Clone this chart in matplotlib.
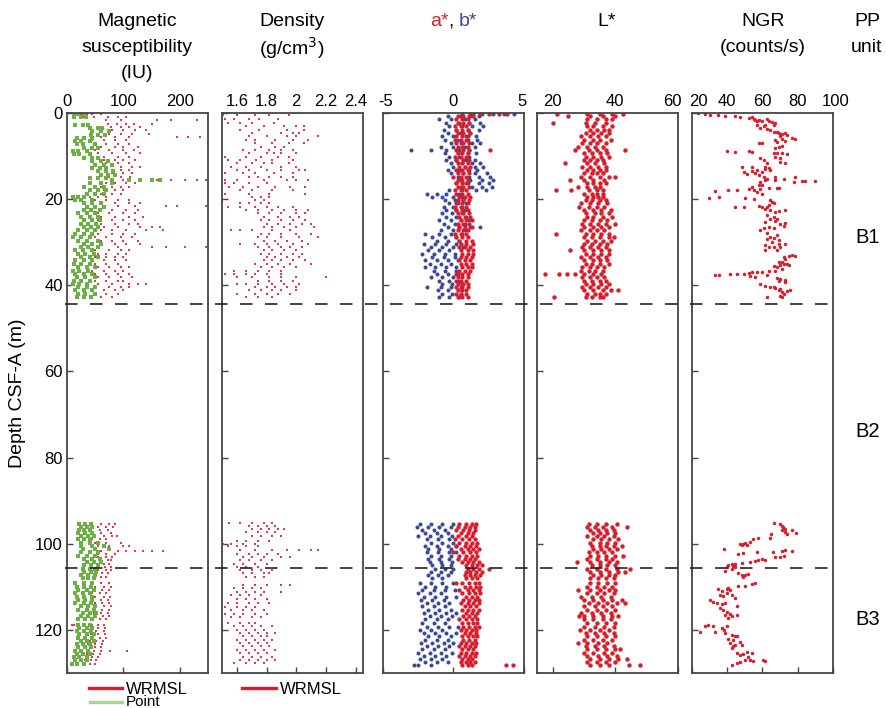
import numpy as np
import matplotlib
matplotlib.use("Agg")
import matplotlib.pyplot as plt
from matplotlib.lines import Line2D
from matplotlib.transforms import blended_transform_factory, ScaledTranslation

plt.rcParams["font.family"] = ["Liberation Sans", "DejaVu Sans"]
plt.rcParams["axes.unicode_minus"] = False

# ---------------------------------------------------------------------------
# Data: each row is (depth in m CSF-A, value, value, ...)
# ---------------------------------------------------------------------------

# Magnetic susceptibility, whole-round (WRMSL), IU
ms_wrmsl = [
    (0.3, 25, 35, 45, 60), (1.0, 30, 48, 72, 90, 105), (1.7, 70, 95, 160, 185, 230),
    (2.5, 72, 88, 105, 118, 150), (3.3, 78, 95, 110, 130), (4.0, 80, 100, 120, 140),
    (4.8, 75, 95, 115, 145), (5.6, 60, 85, 110, 195, 215, 235), (6.3, 45, 65, 85, 105),
    (7.1, 50, 70, 90, 110), (7.9, 60, 85, 100, 125), (8.6, 50, 75, 100, 118),
    (9.4, 55, 80, 105, 130), (10.2, 65, 90, 110), (11.0, 65, 85, 100, 120),
    (11.7, 70, 90, 110), (12.5, 70, 95, 115, 130), (13.3, 80, 95, 110),
    (14.0, 80, 100, 115), (14.8, 75, 95, 112), (15.5, 100, 130, 160, 185, 210, 230, 246),
    (16.3, 70, 85, 105, 120), (17.1, 60, 80, 95, 110), (17.9, 65, 85, 100),
    (18.7, 60, 80, 95), (19.5, 40, 55, 70), (20.2, 50, 70, 90, 110),
    (21.0, 60, 85, 110, 130), (21.7, 65, 90, 120, 175, 195, 246), (22.5, 60, 80, 105, 125),
    (23.3, 55, 75, 100, 120), (24.1, 60, 85, 110, 135), (24.9, 55, 80, 100, 120),
    (25.7, 60, 85, 110, 125), (26.5, 65, 90, 130, 150, 165), (27.2, 60, 80, 105, 140, 170),
    (28.0, 55, 80, 100, 120), (28.8, 50, 70, 95, 115), (29.6, 60, 80, 100, 125),
    (30.4, 60, 85, 105, 130), (31.1, 55, 90, 150, 175, 210, 246), (31.9, 50, 75, 95, 110),
    (32.7, 55, 70, 90, 105), (33.5, 50, 70, 85, 100), (34.2, 45, 65, 85, 105),
    (35.0, 50, 70, 90), (35.8, 55, 75, 95, 110), (36.6, 45, 65, 85, 100),
    (37.4, 50, 70, 90, 110), (38.1, 55, 75, 95, 115), (38.9, 50, 70, 90, 100),
    (39.7, 55, 80, 110, 125, 140), (40.5, 50, 75, 95, 110), (41.2, 45, 65, 85, 100),
    (42.0, 50, 70, 90), (42.8, 45, 60, 80),
    (95.3, 45, 60, 75, 85), (96.0, 45, 55, 70, 82), (96.8, 42, 58, 72),
    (97.5, 45, 60, 78), (98.3, 50, 65, 80, 88), (99.0, 45, 58, 70),
    (99.8, 50, 70, 95), (100.5, 55, 75, 100, 110), (101.6, 60, 90, 105, 120, 135, 150, 170),
    (102.3, 55, 70, 85), (103.0, 55, 70, 80), (103.8, 58, 72, 78),
    (104.6, 55, 65, 75), (105.3, 55, 68, 78), (106.1, 55, 70, 78),
    (106.9, 50, 62, 72), (107.7, 50, 60, 70), (109.2, 45, 60, 75),
    (110.0, 50, 65, 78), (110.8, 48, 62, 75), (111.5, 45, 58, 70),
    (112.3, 50, 65, 77), (113.0, 45, 60, 72), (113.8, 50, 62, 75),
    (114.5, 52, 65, 78), (115.3, 50, 62, 74), (116.0, 48, 60, 72),
    (116.8, 50, 63, 75), (117.5, 45, 58, 70), (118.8, 8, 12, 45, 55, 65),
    (119.5, 42, 55, 68), (120.3, 40, 52, 65), (121.0, 42, 55, 68),
    (121.8, 45, 58, 70), (122.5, 40, 52, 64), (123.3, 38, 50, 62),
    (124.0, 40, 50, 60), (124.8, 38, 48, 60, 76, 106), (125.5, 36, 46, 58),
    (126.3, 35, 45, 55), (127.0, 32, 42, 52), (127.8, 30, 40, 50),
]

# Magnetic susceptibility, point sensor, IU
ms_point = [
    (0.3, 12, 20, 30), (1.0, 12, 25, 33), (2.7, 15, 28, 38), (3.5, 40, 55, 62),
    (4.2, 45, 60, 75), (5.0, 42, 55, 68), (5.8, 18, 30, 45), (6.5, 15, 25, 40),
    (7.3, 18, 28, 50), (8.1, 30, 45, 55), (8.8, 10, 20, 35), (9.6, 12, 22, 40),
    (10.4, 30, 45, 55), (11.2, 45, 60, 72), (12.0, 50, 65, 80), (12.8, 45, 58, 70),
    (13.5, 55, 70, 82), (14.3, 60, 72, 85), (15.0, 40, 55, 70),
    (15.6, 80, 110, 130, 150, 165), (16.3, 40, 60, 80), (17.1, 30, 50, 65),
    (17.9, 40, 55, 70), (18.7, 35, 50, 65), (19.5, 10, 20, 30), (20.2, 15, 25, 45),
    (21.0, 30, 45, 60), (21.8, 35, 50, 65), (22.6, 30, 42, 58), (23.3, 20, 35, 50),
    (24.1, 25, 40, 55), (24.9, 30, 45, 58), (25.7, 25, 38, 52), (26.5, 30, 42, 55),
    (27.2, 20, 35, 50), (28.0, 15, 30, 45), (28.8, 10, 25, 40), (29.6, 20, 35, 55),
    (30.4, 30, 45, 60), (31.1, 25, 38, 55), (31.9, 15, 28, 45), (32.7, 20, 32, 48),
    (33.5, 25, 40, 55), (34.2, 15, 30, 45), (35.0, 12, 25, 40), (35.8, 20, 35, 50),
    (36.6, 10, 22, 38), (37.4, 15, 30, 45), (38.1, 18, 32, 50), (38.9, 12, 25, 40),
    (39.7, 10, 22, 35), (40.5, 20, 35, 50), (41.2, 15, 30, 45), (42.0, 20, 32, 50),
    (42.8, 18, 30, 42),
    (95.3, 22, 32, 42), (96.0, 25, 35, 45), (96.8, 22, 30, 40), (97.5, 20, 32, 44),
    (98.3, 25, 38, 48), (99.0, 20, 30, 40), (99.8, 25, 40, 55), (100.5, 25, 45, 65),
    (101.3, 28, 50, 75), (102.0, 25, 40, 55), (102.8, 20, 35, 50), (103.5, 30, 45, 58),
    (104.3, 35, 48, 60), (105.0, 30, 42, 55), (105.8, 28, 40, 50), (106.5, 30, 42, 52),
    (107.3, 25, 38, 50), (108.0, 28, 38, 48), (109.2, 15, 30, 45), (110.0, 18, 30, 42),
    (110.8, 20, 35, 48), (111.5, 15, 28, 40), (112.3, 18, 30, 45), (113.0, 20, 32, 45),
    (113.8, 15, 30, 42), (114.5, 25, 38, 50), (115.3, 20, 35, 48), (116.0, 28, 40, 52),
    (116.8, 25, 38, 50), (117.5, 20, 32, 45), (118.8, 20, 30, 40), (119.5, 22, 35, 45),
    (120.3, 18, 30, 42), (121.0, 22, 35, 48), (121.8, 20, 32, 45), (122.5, 25, 35, 48),
    (123.3, 18, 28, 40), (124.0, 20, 32, 42), (124.8, 15, 25, 38), (125.5, 18, 28, 40),
    (126.3, 12, 22, 35), (127.0, 15, 25, 35), (127.8, 8, 18, 30),
]

# Bulk density (WRMSL gamma-ray attenuation), g/cm3
density = [
    (0.4, 1.51, 1.60, 1.72, 1.82, 1.95), (1.3, 1.52, 1.58, 1.68, 1.75, 1.88),
    (2.3, 1.54, 1.62, 1.70, 1.85), (3.1, 1.66, 1.78, 1.92, 2.00, 2.05),
    (3.9, 1.62, 1.75, 1.94, 2.05), (4.7, 1.70, 1.90, 1.98, 2.02),
    (5.4, 1.68, 1.80, 1.94, 2.00, 2.15), (6.2, 1.66, 1.72, 1.86, 1.98, 2.08),
    (7.0, 1.72, 1.84, 1.95, 2.05), (7.8, 1.76, 1.86, 1.92),
    (8.6, 1.64, 1.72, 1.82, 1.90, 1.98), (9.3, 1.68, 1.80, 1.85, 1.90, 2.00),
    (10.1, 1.52, 1.66, 1.76, 1.88, 1.95), (10.9, 1.54, 1.62, 1.73, 1.84, 1.98),
    (11.7, 1.60, 1.70, 1.78, 1.84, 1.95), (12.5, 1.56, 1.66, 1.76, 1.90, 2.00),
    (13.2, 1.60, 1.68, 1.80, 1.90, 2.02, 2.06), (14.0, 1.52, 1.64, 1.72, 1.85, 1.98),
    (14.8, 1.68, 1.74, 1.82, 1.90, 1.98), (15.6, 1.52, 1.60, 1.78, 1.94, 2.00, 2.08),
    (16.3, 1.52, 1.58, 1.68, 1.80), (17.1, 1.55, 1.64, 1.74, 1.86, 1.96, 2.06),
    (17.9, 1.62, 1.70, 1.84, 1.98), (18.7, 1.52, 1.68, 1.82, 2.06),
    (19.5, 1.70, 1.76, 1.82), (20.2, 1.72, 1.78),
    (21.0, 1.62, 1.68, 1.76, 1.82), (21.8, 1.54, 1.62, 1.72, 1.80, 1.88, 1.98),
    (22.6, 1.66, 1.74, 1.84, 1.92, 2.00, 2.08), (23.3, 1.74, 1.82, 1.90, 2.00, 2.06),
    (24.1, 1.78, 1.88, 1.96, 2.02), (24.9, 1.76, 1.82, 1.90, 1.98, 2.06),
    (25.7, 1.80, 1.88, 1.96, 2.04, 2.10), (26.5, 1.78, 1.84, 1.92, 2.00, 2.12),
    (27.2, 1.56, 1.62, 1.70, 1.84, 1.96), (28.0, 1.76, 1.82, 1.90, 2.00, 2.10),
    (28.8, 1.74, 1.80, 1.90, 2.02, 2.15), (29.6, 1.78, 1.86, 1.94, 2.04),
    (30.4, 1.62, 1.72, 1.80, 1.88, 1.98, 2.08), (31.1, 1.74, 1.82, 1.90, 1.96, 2.04),
    (31.9, 1.78, 1.84, 1.92, 2.00), (32.7, 1.76, 1.82, 1.90, 1.98, 2.04),
    (33.5, 1.80, 1.86, 1.94, 2.02), (34.2, 1.78, 1.84, 1.90, 1.98, 2.06),
    (35.0, 1.72, 1.80, 1.88, 1.96, 2.10), (35.8, 1.76, 1.84, 1.92, 2.00),
    (36.6, 1.58, 1.66, 1.74, 1.82, 1.90), (37.4, 1.52, 1.58, 1.66, 1.72, 1.80, 1.90),
    (38.1, 1.60, 1.70, 1.82, 1.90, 2.00, 2.20), (38.9, 1.74, 1.82, 1.90, 1.98),
    (39.7, 1.60, 1.66, 1.74, 1.84, 1.92, 2.02), (40.5, 1.72, 1.80, 1.86, 1.94, 2.00),
    (41.2, 1.68, 1.76, 1.84, 1.90, 2.00), (42.0, 1.60, 1.72, 1.80, 1.88, 1.96),
    (42.8, 1.66, 1.74, 1.84),
    (95.2, 1.55, 1.62, 1.70, 1.78, 1.84), (95.8, 1.68, 1.74, 1.80, 1.86),
    (96.5, 1.70, 1.76, 1.82, 1.88, 1.92), (97.3, 1.66, 1.74, 1.80, 1.86),
    (98.2, 1.70, 1.76, 1.84, 1.90), (99.4, 1.60, 1.66, 1.74, 1.82),
    (100.0, 1.51, 1.56, 1.64, 1.72), (100.6, 1.54, 1.60, 1.66, 1.74),
    (101.5, 1.62, 1.72, 1.84, 1.94, 2.02, 2.10, 2.15), (102.3, 1.60, 1.68, 1.74, 1.80, 1.88),
    (103.0, 1.64, 1.70, 1.78, 1.90, 1.96), (103.8, 1.62, 1.68, 1.76, 1.84),
    (104.6, 1.58, 1.64, 1.72, 1.80), (105.4, 1.60, 1.66, 1.74),
    (106.2, 1.62, 1.70, 1.76, 1.84), (106.9, 1.64, 1.70, 1.78, 1.82),
    (107.7, 1.66, 1.72, 1.78), (109.5, 1.64, 1.72, 1.80, 1.90, 1.96),
    (110.3, 1.58, 1.64, 1.70, 1.76), (111.2, 1.60, 1.66, 1.72, 1.78, 1.90),
    (112.0, 1.56, 1.62, 1.68, 1.76), (112.8, 1.60, 1.66, 1.72, 1.80),
    (113.7, 1.54, 1.60, 1.68, 1.74, 1.82), (114.6, 1.52, 1.60, 1.66, 1.72),
    (115.4, 1.56, 1.64, 1.70, 1.78), (116.2, 1.52, 1.58, 1.64, 1.72, 1.80),
    (117.0, 1.56, 1.62, 1.70, 1.76), (118.5, 1.54, 1.62, 1.68, 1.72),
    (119.2, 1.58, 1.64, 1.70, 1.76, 1.84), (120.0, 1.60, 1.66, 1.72, 1.78),
    (120.8, 1.62, 1.68, 1.74, 1.80, 1.86), (121.5, 1.64, 1.70, 1.76, 1.80),
    (122.3, 1.60, 1.66, 1.72, 1.78, 1.84), (123.1, 1.62, 1.68, 1.74, 1.80),
    (123.8, 1.64, 1.70, 1.76, 1.82), (124.6, 1.60, 1.66, 1.72, 1.78, 1.86),
    (125.4, 1.62, 1.68, 1.74, 1.80), (126.2, 1.64, 1.70, 1.76, 1.84),
    (126.9, 1.62, 1.68, 1.74, 1.80, 1.86), (127.7, 1.58, 1.66, 1.72, 1.78),
]

# Color reflectance a*
a_star = [
    (0.2, 1.4, 1.9, 2.5, 3.2, 3.8), (0.8, 0.3, 0.7, 1.1, 1.4), (1.5, 0.2, 0.6, 1.0),
    (2.3, 0.3, 0.7, 1.1), (3.1, 0.1, 0.5, 0.9), (3.9, 0.2, 0.6, 1.0), (4.7, 0.3, 0.7, 1.2),
    (5.4, 0.2, 0.6, 1.0), (6.2, 0.1, 0.5, 0.9), (7.0, 0.2, 0.7, 1.1), (7.8, 0.3, 0.6, 1.0),
    (8.6, 0.2, 0.7, 1.1, 2.6), (9.3, 0.3, 0.6, 1.0), (10.1, 0.1, 0.5, 0.9),
    (10.9, 0.2, 0.7, 1.1), (11.7, 0.3, 0.6, 1.0), (12.5, 0.4, 0.8, 1.2),
    (13.2, 0.2, 0.6, 1.0), (14.0, 0.3, 0.7, 1.1), (14.8, 0.0, 0.5, 0.9),
    (15.6, 0.3, 0.6, 1.0), (16.3, 0.2, 0.6, 0.9), (17.1, 0.3, 0.7, 1.1),
    (17.9, 0.1, 0.5, 0.9), (18.7, 0.2, 0.6, 1.0), (19.5, 0.4, 0.8, 1.2),
    (20.2, 0.3, 0.7, 1.1), (21.0, 0.2, 0.6, 1.0), (21.8, 0.1, 0.5, 0.9),
    (22.6, 0.2, 0.6, 1.0), (23.3, 0.3, 0.7, 1.1), (24.1, 0.4, 0.8, 1.2),
    (24.9, 0.5, 0.9, 1.3), (25.7, 0.3, 0.7, 1.1), (26.5, 0.4, 0.8, 1.3),
    (27.2, 0.3, 0.7, 1.0), (28.0, 0.1, 0.5, 0.9), (28.8, 0.2, 0.6, 1.0),
    (29.6, 0.4, 0.9, 1.3), (30.4, 0.5, 0.9, 1.4), (31.1, 0.4, 0.8, 1.2),
    (31.9, 0.5, 1.0, 1.4), (32.7, 0.6, 1.0, 1.4), (33.5, 0.5, 0.9, 1.3),
    (34.2, 0.4, 0.8, 1.2), (35.0, 0.5, 0.9, 1.3), (35.8, 0.6, 1.0, 1.3),
    (36.6, 0.4, 0.8, 1.2), (37.4, 0.2, 0.6, 1.0), (38.1, 0.3, 0.6, 1.0),
    (38.9, 0.2, 0.5, 0.9), (39.7, 0.3, 0.7, 1.0), (40.5, 0.2, 0.6, 1.0),
    (41.2, 0.3, 0.6, 0.9), (42.0, 0.2, 0.5, 0.9), (42.8, 0.3, 0.6, 1.0),
    (95.3, 0.4, 0.9, 1.3, 1.6), (96.0, 0.3, 0.8, 1.2, 1.5), (96.8, 0.2, 0.7, 1.1, 1.5),
    (97.5, 0.5, 1.0, 1.4), (98.3, 0.3, 0.9, 1.3), (99.0, 0.1, 0.6, 1.1, 1.5),
    (99.8, 0.4, 0.9, 1.3, 1.7), (100.5, 0.2, 0.8, 1.2, 1.6), (101.3, 0.5, 1.0, 1.4, 1.8),
    (102.0, 0.0, 0.7, 1.2, 1.6), (102.8, 0.4, 0.9, 1.3, 1.7), (103.5, 0.3, 0.8, 1.2, 1.5),
    (104.3, 0.6, 1.0, 1.4, 1.8), (105.0, 0.9, 1.3, 1.7, 2.0), (105.8, 1.0, 1.4, 1.8, 2.5),
    (106.5, 0.9, 1.2, 1.6, 2.0), (107.3, 0.8, 1.2, 1.5, 1.9), (108.0, 0.9, 1.3, 1.7),
    (109.2, 0.2, 0.6, 1.1, 1.5, 1.8), (110.0, 0.8, 1.2, 1.6, 1.9), (110.8, 0.4, 1.0, 1.4, 1.8),
    (111.5, 0.6, 1.1, 1.5, 1.9), (112.3, 0.9, 1.3, 1.7), (113.0, 0.7, 1.1, 1.5, 1.8),
    (113.8, 0.5, 1.0, 1.4, 1.8), (114.5, 0.8, 1.2, 1.6), (115.3, 0.6, 1.0, 1.4, 1.8),
    (116.0, 0.9, 1.3, 1.7), (116.8, 0.7, 1.1, 1.5), (117.5, 0.4, 0.9, 1.3, 1.7),
    (118.5, 0.6, 1.0, 1.4, 1.7), (119.3, 0.7, 1.1, 1.5, 1.8), (120.0, 0.5, 0.9, 1.3, 1.6),
    (120.8, 0.8, 1.2, 1.6), (121.5, 0.6, 1.0, 1.4, 1.7), (122.3, 0.7, 1.1, 1.5),
    (123.0, 0.5, 0.9, 1.3, 1.6), (123.8, 0.4, 0.8, 1.2, 1.5), (124.5, 0.6, 1.0, 1.4),
    (125.3, 0.5, 0.9, 1.3, 1.6), (126.0, 0.4, 0.8, 1.2, 1.5), (126.8, 0.6, 1.0, 1.3),
    (127.5, 0.5, 0.9, 1.2, 1.5), (128.2, 0.6, 1.0, 1.3, 3.7, 4.2),
]

# Color reflectance b*
b_star = [
    (0.2, 0.6, 1.2, 2.0, 2.8, 3.6, 4.3), (0.8, -0.4, 0.5, 1.2, 1.8), (1.5, -1.0, -0.2, 0.8, 1.5),
    (2.3, -0.5, 0.4, 1.1, 1.9), (3.1, -0.3, 0.6, 1.3, 2.1), (3.9, -0.7, 0.2, 1.0, 1.8),
    (4.7, -0.4, 0.5, 1.2), (5.4, -0.8, 0.0, 0.9, 1.6), (6.2, -0.6, 0.3, 1.0, 1.7),
    (7.0, -0.2, 0.5, 1.3, 1.9), (7.8, -0.9, 0.0, 0.8, 1.5), (8.6, -3.0, -1.6, -0.5, 0.4, 1.1),
    (9.3, -0.6, 0.3, 1.0, 1.6), (10.1, -0.3, 0.4, 1.1), (10.9, -0.5, 0.2, 0.9, 1.5),
    (11.7, -0.2, 0.6, 1.3, 1.9), (12.5, 0.0, 0.8, 1.5, 2.1), (13.2, -0.4, 0.4, 1.1, 1.7),
    (14.0, -0.2, 0.7, 1.5, 2.4), (14.8, 0.3, 1.1, 1.8, 2.6), (15.6, 0.4, 1.2, 2.0, 2.8),
    (16.3, 0.2, 1.0, 1.8, 2.5), (17.1, 0.5, 1.3, 2.0, 2.7), (17.9, -0.3, 0.6, 1.6, 2.3),
    (18.7, -1.9, -1.2, -0.5, 0.4), (19.5, -1.5, -0.8, 0.0, 0.6), (20.2, -0.6, 0.1, 0.7),
    (21.0, -0.3, 0.3, 0.9), (21.8, -0.7, 0.0, 0.6), (22.6, -0.5, 0.2, 0.8),
    (23.3, -0.8, -0.1, 0.6), (24.1, -0.5, 0.2, 0.9), (24.9, -1.0, -0.2, 0.5, 1.1),
    (25.7, -0.7, 0.1, 0.8), (26.5, -0.4, 0.4, 1.2, 1.9), (27.2, -0.9, 0.0, 0.8),
    (28.0, -2.0, -1.0, -0.2, 0.6), (28.8, -1.5, -0.6, 0.2), (29.6, -1.2, -0.4, 0.4),
    (30.4, -2.1, -1.3, -0.5, 0.2), (31.1, -1.6, -0.8, 0.0, 0.7), (31.9, -1.8, -1.0, -0.3),
    (32.7, -2.2, -1.4, -0.6, 0.1), (33.5, -1.5, -0.7, 0.1), (34.2, -2.0, -1.2, -0.4, 0.3),
    (35.0, -1.7, -0.9, -0.2), (35.8, -2.0, -1.3, -0.5, 0.2), (36.6, -1.4, -0.6, 0.2),
    (37.4, -1.2, -0.4, 0.3), (38.1, -1.6, -0.8, 0.0), (38.9, -1.0, -0.3, 0.4),
    (39.7, -0.8, -0.1, 0.6), (40.5, -1.9, -0.9, -0.2, 0.5), (41.2, -1.1, -0.4, 0.3),
    (42.0, -0.8, -0.1, 0.5), (42.8, -1.0, -0.3, 0.4),
    (95.3, -2.4, -1.6, -0.8, 0.0), (96.0, -2.6, -1.8, -1.0, -0.2), (96.8, -2.2, -1.4, -0.6),
    (97.5, -2.0, -1.2, -0.4), (98.3, -2.5, -1.7, -0.9, -0.1), (99.0, -1.9, -1.1, -0.3),
    (99.8, -1.6, -0.8, 0.0), (100.5, -2.0, -1.2, -0.4, 0.2), (101.3, -1.8, -1.0, -0.2),
    (102.0, -1.9, -1.1, -0.3, 0.2), (102.8, -1.6, -0.9, -0.2), (103.5, -1.8, -1.0, -0.3),
    (104.3, -1.7, -0.9, -0.1), (105.0, -1.5, -0.8, -0.2), (105.8, -1.3, -0.6, 0.0),
    (106.5, -1.6, -0.9, -0.2), (107.3, -1.8, -1.1, -0.4), (108.0, -1.5, -0.8),
    (109.2, -2.4, -1.6, -0.8, 0.0), (110.0, -2.0, -1.3, -0.5), (110.8, -2.2, -1.4, -0.6, 0.1),
    (111.5, -2.5, -1.7, -0.9), (112.3, -2.1, -1.3, -0.5, 0.2), (113.0, -2.3, -1.5, -0.7),
    (113.8, -1.9, -1.1, -0.3), (114.5, -2.2, -1.4, -0.6), (115.3, -1.8, -1.0, -0.2),
    (116.0, -2.1, -1.3, -0.5, 0.2), (116.8, -1.7, -0.9, -0.1), (117.5, -2.0, -1.2, -0.4),
    (118.5, -2.2, -1.4, -0.6), (119.3, -1.9, -1.1, -0.3, 0.3), (120.0, -2.4, -1.6, -0.8),
    (120.8, -2.1, -1.3, -0.5, 0.2), (121.5, -1.8, -1.0, -0.2), (122.3, -2.0, -1.2, -0.4),
    (123.0, -2.3, -1.5, -0.7, 0.0), (123.8, -1.9, -1.1, -0.3), (124.5, -2.2, -1.4, -0.6),
    (125.3, -2.5, -1.7, -0.9, -0.1), (126.0, -2.1, -1.3, -0.5), (126.8, -2.4, -1.6, -0.8),
    (127.5, -2.0, -1.2, -0.4), (128.2, -2.8, -2.5, -1.6),
]

# Color reflectance L*
l_star = [
    (0.2, 21.4, 31, 35, 39, 42.5), (0.8, 25, 32, 36, 40), (1.5, 31, 34, 37, 39),
    (2.3, 20, 30.5, 33.5, 37), (3.1, 31, 33, 36, 39), (3.9, 32, 34, 36.5, 38),
    (4.7, 30.5, 33, 35.5, 38), (5.4, 29, 32, 34.5, 37), (6.2, 30, 33, 35, 38.5),
    (7.0, 29.5, 32, 34, 37), (7.8, 28, 31, 33.5, 36), (8.6, 27, 31.5, 34, 37, 43),
    (9.3, 30, 32.5, 35, 37.5), (10.1, 30.5, 33, 35.5, 38), (10.9, 30, 32, 34, 36),
    (11.7, 24, 31, 33.5, 36.5), (12.5, 29.5, 32, 34.5, 37), (13.2, 31, 33, 35, 37),
    (14.0, 30, 32.5, 34, 36), (14.8, 29, 32, 35, 38, 40), (15.6, 25.5, 30, 33, 36.5),
    (16.3, 31, 33, 35, 37), (17.1, 28, 31, 33.5, 35), (17.9, 21, 26, 31.5, 34, 36),
    (18.7, 30, 32.5, 34, 36), (19.5, 31, 33, 34.5, 36), (20.2, 30.5, 32.5, 35, 37),
    (21.0, 29, 32, 34.5, 37.5), (21.8, 28.5, 31.5, 34, 36.5), (22.6, 30, 33, 35.5, 38.5),
    (23.3, 30.5, 33.5, 35.5, 38), (24.1, 31, 33, 36, 39), (24.9, 30, 32.5, 35, 37.5),
    (25.7, 29.5, 32, 34.5, 37, 40), (26.5, 30, 33, 35.5, 38), (27.2, 29, 32, 34, 36.5),
    (28.0, 21, 30.5, 33, 35.5, 38), (28.8, 30, 32.5, 35, 38, 39.5), (29.6, 31, 33.5, 36, 38.5),
    (30.4, 30, 32.5, 35, 37.5), (31.1, 29.5, 32, 34.5, 37), (31.9, 25.5, 30, 33, 35.5, 38),
    (32.7, 30.5, 33, 35.5, 38), (33.5, 29, 32, 34.5, 37), (34.2, 30, 33, 35, 37.5),
    (35.0, 30.5, 32.5, 35, 38), (35.8, 29.5, 32, 34, 36.5), (36.6, 29, 31.5, 33.5, 36),
    (37.4, 17.6, 22, 24.5, 27, 30, 33, 35.5), (38.1, 29.5, 32, 34, 36.5),
    (38.9, 30, 32.5, 35, 37), (39.7, 30.5, 33, 35.5, 38), (40.5, 29.5, 32, 34.5, 37),
    (41.2, 30, 33, 36, 38.5, 41), (42.0, 31, 33.5, 35, 37), (42.8, 20.3, 30.5, 32.5, 35, 36),
    (95.3, 31.5, 34, 37, 40.5), (96.0, 31, 33.5, 36, 39, 43.6), (96.8, 32, 34.5, 37, 39.5),
    (97.5, 33, 35, 37.5, 40), (98.3, 31, 34, 36.5, 39.5), (99.0, 33, 35.5, 38, 41),
    (99.8, 32, 35, 37.5, 40), (100.5, 32.5, 35, 37, 39.5, 42), (101.3, 33, 35.5, 38, 40.5),
    (102.0, 31.5, 34, 36.5, 39), (102.8, 32, 34.5, 37, 40, 42.5), (103.5, 31, 34, 37, 39),
    (104.3, 27.7, 32, 35, 38, 40.5), (105.0, 32.5, 35, 37.5, 40), (105.8, 31, 34, 37, 40.5, 44.7),
    (106.5, 32, 35, 38, 41, 43), (107.3, 33, 35.5, 38, 40), (108.0, 32, 34.5, 37, 39.5),
    (109.2, 32, 34.5, 37.5, 40), (110.0, 31, 34, 36.5, 39), (110.8, 28, 32, 35, 38, 40),
    (111.5, 31, 34, 36.5, 39.5), (112.3, 29, 32.5, 35.5, 38.5), (113.0, 30, 33, 36, 39, 42),
    (113.8, 31.5, 34.5, 37.5, 40.5, 43), (114.5, 30, 33.5, 36, 39), (115.3, 31, 34, 37, 40),
    (116.0, 29, 32.5, 35.5, 38.5), (116.8, 28.5, 30, 33, 36, 39, 41), (117.5, 30, 33, 36, 38.5),
    (118.5, 31, 34, 37, 40), (119.3, 30, 33.5, 36.5, 39.5), (120.0, 28.8, 32, 35, 38),
    (120.8, 30.5, 33.5, 36.5, 39.5), (121.5, 31, 34, 37, 40), (122.3, 30, 33, 36, 39),
    (123.0, 28, 31, 34.5, 37.5), (123.8, 30.5, 33.5, 36.5, 39.5), (124.5, 31, 34, 37, 40, 41.5),
    (125.3, 30, 33, 36.5, 39), (126.0, 31, 34.5, 37.5, 40.5), (126.8, 32, 35, 38, 41, 43.6),
    (127.5, 31, 34, 37, 40), (128.2, 32, 35, 38, 44.5, 47.8),
]

# Natural gamma radiation, counts/s: (depth, value)
ngr = [
    (0.0, 23.4), (0.2, 27.6), (0.4, 30.4), (0.5, 34.7), (0.6, 38.9), (0.8, 44.6), (0.9, 47.4),
    (1.2, 52.1), (0.9, 54.0), (1.3, 55.0), (1.7, 55.9), (1.9, 56.9), (1.6, 57.8), (1.8, 59.7),
    (1.4, 62.5), (1.9, 63.5), (2.2, 65.4), (2.7, 66.3), (2.3, 67.3), (3.1, 60.6), (2.9, 61.6),
    (2.7, 56.9), (3.5, 58.8), (3.7, 62.5), (4.0, 64.4), (4.5, 66.3), (4.3, 68.2), (4.7, 69.1),
    (4.9, 71.0), (4.7, 72.9), (5.1, 73.9), (5.4, 70.1), (6.1, 71.0), (6.2, 67.3), (6.8, 68.2),
    (6.6, 72.9), (5.8, 76.7), (6.1, 78.6), (7.8, 69.1), (8.2, 67.3), (7.6, 71.0), (7.0, 57.8),
    (7.0, 59.7), (9.2, 66.3), (9.3, 68.2), (9.3, 71.0), (9.5, 73.9), (10.1, 67.3), (10.5, 70.1),
    (11.5, 72.9), (11.3, 70.1), (8.9, 39.8), (9.1, 44.6), (8.8, 52.1), (9.1, 54.0), (10.5, 58.8),
    (10.9, 60.6), (11.7, 62.5), (12.5, 61.6), (12.8, 63.5), (13.2, 64.4), (13.1, 61.6),
    (13.6, 59.7), (13.2, 56.9), (13.5, 54.0), (14.0, 55.9), (12.5, 48.4), (13.6, 49.3),
    (14.2, 51.2), (12.5, 54.0), (14.4, 57.8), (14.8, 60.6), (15.6, 61.6), (15.3, 62.5),
    (16.0, 58.8), (16.7, 59.7), (14.9, 67.3), (15.6, 67.3), (15.4, 72.0), (14.9, 78.6),
    (16.0, 77.7), (15.7, 82.4), (15.7, 84.3), (15.8, 89.9), (17.3, 69.1), (17.5, 68.2),
    (17.5, 63.5), (16.7, 57.8), (17.1, 54.0), (17.9, 55.0), (18.3, 56.9), (17.7, 58.8),
    (17.7, 52.1), (17.9, 45.5), (17.9, 40.4), (18.1, 33.2), (19.5, 35.1), (19.7, 29.8),
    (19.7, 50.2), (20.0, 55.0), (18.9, 59.7), (20.1, 64.4), (20.6, 65.4), (21.0, 66.3),
    (21.4, 63.5), (21.9, 62.5), (22.2, 61.6), (21.6, 57.8), (21.8, 59.7), (23.0, 67.3),
    (22.7, 69.1), (22.6, 72.9), (21.9, 44.6), (21.9, 49.3), (22.6, 64.4), (23.7, 62.5),
    (24.1, 66.3), (24.5, 68.2), (24.7, 64.4), (25.3, 61.6), (25.1, 67.3), (25.7, 70.1),
    (26.5, 63.5), (26.6, 66.3), (27.1, 58.8), (26.8, 60.6), (25.5, 72.9), (26.3, 72.0),
    (27.9, 62.5), (28.8, 64.4), (29.0, 66.3), (29.4, 69.1), (28.4, 68.2), (29.2, 62.5),
    (30.0, 65.4), (30.7, 61.6), (31.1, 63.5), (31.0, 66.3), (31.1, 70.1), (31.7, 68.2),
    (31.9, 61.6), (30.5, 69.1), (30.5, 72.9), (33.5, 72.0), (33.9, 72.9), (33.3, 74.8),
    (33.0, 76.7), (33.2, 78.6), (34.5, 71.0), (35.0, 72.0), (34.6, 69.1), (35.4, 70.1),
    (35.8, 68.2), (35.6, 66.3), (36.6, 67.3), (36.2, 71.0), (35.0, 73.9), (35.4, 74.8),
    (36.7, 63.5), (37.7, 62.5), (36.8, 59.7), (37.0, 56.9), (37.0, 54.0), (37.2, 52.1),
    (37.4, 49.3), (37.4, 45.5), (37.4, 41.7), (37.5, 35.1), (37.6, 33.2), (38.0, 55.9),
    (37.9, 53.1), (38.3, 68.2), (38.5, 70.1), (38.8, 72.9), (38.9, 69.1), (39.3, 72.9),
    (39.8, 58.8), (40.1, 61.6), (40.3, 64.4), (40.5, 66.3), (40.6, 67.3), (40.9, 70.1),
    (41.2, 69.1), (41.6, 71.0), (42.0, 72.0), (41.4, 73.9), (41.2, 75.8), (42.4, 70.1),
    (42.8, 71.0), (42.8, 62.5),
    (95.2, 66.7), (95.4, 69.9), (95.8, 70.9), (96.2, 71.8), (96.5, 72.7), (96.9, 70.9),
    (97.3, 72.7), (97.7, 73.7), (96.8, 76.5), (97.5, 78.8), (97.7, 64.8), (98.6, 64.2),
    (98.6, 57.2), (99.0, 54.8), (99.6, 52.9), (100.0, 47.2), (100.4, 48.2), (100.0, 49.1),
    (99.8, 50.1), (100.2, 51.0), (101.2, 38.3), (102.3, 46.3), (102.2, 49.1), (101.9, 56.7),
    (101.9, 66.1), (101.7, 70.9), (101.4, 72.7), (101.7, 76.5), (103.1, 67.1), (103.1, 69.9),
    (102.9, 72.4), (103.7, 61.4), (103.5, 59.9), (103.8, 57.6), (104.0, 55.7), (104.2, 52.9),
    (104.4, 48.2), (104.6, 44.4), (104.8, 42.5), (105.0, 40.6), (105.2, 43.4), (105.5, 39.7),
    (106.3, 38.7), (105.8, 42.5), (105.5, 44.4), (106.9, 46.3), (107.3, 48.2), (107.2, 50.1),
    (107.1, 51.6), (107.7, 49.1), (109.4, 53.8), (109.2, 55.7), (109.8, 46.3), (109.8, 50.1),
    (110.6, 34.9), (110.9, 36.8), (110.4, 39.7), (110.2, 40.6), (110.8, 41.6), (111.9, 35.9),
    (112.2, 37.8), (111.5, 39.7), (111.9, 42.5), (112.5, 44.4), (113.1, 30.2), (113.5, 32.1),
    (113.7, 34.0), (114.0, 36.8), (113.8, 38.7), (114.5, 45.3), (115.0, 35.9), (115.4, 37.8),
    (115.8, 39.7), (116.2, 41.6), (116.5, 38.7), (116.8, 42.5), (117.3, 40.6), (116.5, 45.3),
    (119.0, 27.4), (118.8, 29.3), (120.4, 24.5), (119.2, 32.1), (120.4, 33.0), (119.6, 36.8),
    (120.0, 38.3), (120.8, 38.7), (119.2, 39.7), (121.2, 42.5), (121.5, 44.4), (121.4, 45.3),
    (122.2, 40.6), (122.3, 43.4), (123.1, 41.6), (123.5, 44.4), (124.2, 42.5), (123.8, 43.4),
    (122.7, 47.2), (123.5, 48.2), (125.4, 45.3), (125.8, 47.2), (125.5, 49.1), (125.2, 51.0),
    (126.2, 51.9), (125.4, 53.8), (126.9, 50.1), (127.5, 47.2), (127.7, 45.3), (128.1, 42.5),
    (126.9, 52.9), (127.2, 54.8), (126.9, 60.5), (127.3, 61.4),
]

# Lithostratigraphic (physical property) unit boundaries and labels
unit_boundaries = [44.3, 105.6]
unit_names = ["B1", "B2", "B3"]
unit_label_depths = [28.8, 74.0, 117.6]

depth_ticks = [0, 20, 40, 60, 80, 100, 120]
depth_range = (130, 0)


def flatten(rows):
    depth, vals = [], []
    for row in rows:
        for v in row[1:]:
            depth.append(row[0])
            vals.append(v)
    return np.array(vals, dtype=float), np.array(depth, dtype=float)


RED = "#d81e2c"
RED_LIGHT = "#e23a48"
BLUE = "#3c4a96"
GREEN = "#6bb043"
GREEN_LEGEND = "#a7d48e"
FRAME = "#454545"

W, H = 887, 708
fig = plt.figure(figsize=(W / 100, H / 100), dpi=100)


def fx(px):
    return px / W


def fy(py):
    return 1 - py / H


panel_left_px = [67, 222, 383, 537, 692]
panel_w_px = 141
top_px, bottom_px = 113, 673

# label_nudge: horizontal pixel offsets that keep edge labels of
# neighbouring panels apart
panel_specs = [
    dict(xlim=(0, 250), xticks=[0, 100, 200], label_nudge={}),
    dict(xlim=(1.5, 2.45), xticks=[1.6, 1.8, 2.0, 2.2, 2.4], label_nudge={}),
    dict(xlim=(-5, 5), xticks=[-5, 0, 5], label_nudge={-5: 3, 5: -2}),
    dict(xlim=(15, 60), xticks=[20, 40, 60], label_nudge={60: -6}),
    dict(xlim=(20, 100), xticks=[20, 40, 60, 80, 100], label_nudge={20: 6, 100: 3}),
]

axes = []
for i, (lpx, spec) in enumerate(zip(panel_left_px, panel_specs)):
    ax = fig.add_axes([fx(lpx), fy(bottom_px), panel_w_px / W, (bottom_px - top_px) / H])
    ax.set_xlim(*spec["xlim"])
    ax.set_ylim(*depth_range)
    ax.set_xticks(spec["xticks"])
    ax.set_xticklabels(["{:g}".format(t) for t in spec["xticks"]])
    ax.set_yticks(depth_ticks)
    ax.tick_params(axis="x", direction="in", length=4, width=1.0, color=FRAME,
                   bottom=True, top=False, labelbottom=False, labeltop=True,
                   labelsize=12, pad=3)
    ax.tick_params(axis="y", direction="in", length=4, width=1.0, color=FRAME,
                   left=True, right=False, labelleft=(i == 0), labelsize=12, pad=3)
    for t, tick in zip(spec["xticks"], ax.xaxis.get_major_ticks()):
        dx = spec["label_nudge"].get(t, 0)
        if dx:
            lab = tick.label2
            lab.set_transform(lab.get_transform()
                              + ScaledTranslation(dx / 100, 0, fig.dpi_scale_trans))
    for s in ax.spines.values():
        s.set_color(FRAME)
        s.set_linewidth(1.3)
    axes.append(ax)

ax_ms, ax_den, ax_ab, ax_l, ax_ngr = axes

# Magnetic susceptibility
v, d = flatten(ms_wrmsl)
ax_ms.plot(v, d, ls="none", marker="s", ms=1.6, mew=0, color=RED_LIGHT)
v, d = flatten(ms_point)
ax_ms.plot(v, d, ls="none", marker="s", ms=3.3, mew=0, color=GREEN)

# Density
v, d = flatten(density)
ax_den.plot(v, d, ls="none", marker="s", ms=1.6, mew=0, color=RED_LIGHT)

# a*, b*
v, d = flatten(b_star)
ax_ab.plot(v, d, ls="none", marker="o", ms=2.9, mew=0, color=BLUE)
v, d = flatten(a_star)
ax_ab.plot(v, d, ls="none", marker="o", ms=3.1, mew=0, color=RED)

# L*
v, d = flatten(l_star)
ax_l.plot(v, d, ls="none", marker="o", ms=3.2, mew=0, color=RED)

# NGR
ngr_depth = [p[0] for p in ngr]
ngr_val = [p[1] for p in ngr]
ax_ngr.plot(ngr_val, ngr_depth, ls="none", marker="o", ms=2.5, mew=0, color=RED)

# Unit boundaries spanning all panels
tr = blended_transform_factory(fig.transFigure, ax_ms.transData)
for b in unit_boundaries:
    fig.add_artist(Line2D([fx(65), fx(836)], [b, b], transform=tr, color="#222222",
                          lw=1.2, ls=(0, (7.5, 7.5))))

# Unit labels
for name, dep in zip(unit_names, unit_label_depths):
    fig.text(fx(868), dep, name, transform=tr, ha="center", va="center", fontsize=14.5)

# Column headers
hdr = dict(ha="center", va="center", fontsize=14)
fig.text(fx(137), fy(22), "Magnetic", **hdr)
fig.text(fx(137), fy(48), "susceptibility", **hdr)
fig.text(fx(137), fy(73), "(IU)", **hdr)
fig.text(fx(292), fy(22), "Density", **hdr)
fig.text(fx(292), fy(48), r"(g/cm$^{3}$)", **hdr)
fig.text(fx(449), fy(22), "a*", color=RED, ha="right", va="center", fontsize=14)
fig.text(fx(449), fy(22), ", ", color="black", ha="left", va="center", fontsize=14)
fig.text(fx(459), fy(22), "b*", color=BLUE, ha="left", va="center", fontsize=14)
fig.text(fx(607), fy(22), "L*", **hdr)
fig.text(fx(763), fy(22), "NGR", **hdr)
fig.text(fx(763), fy(48), "(counts/s)", **hdr)
fig.text(fx(867), fy(22), "PP", **hdr)
fig.text(fx(867), fy(48), "unit", **hdr)

fig.text(fx(18), fy(393), "Depth CSF-A (m)", rotation=90, ha="center", va="center",
         fontsize=14)

# Legends below the first two panels
fig.add_artist(Line2D([fx(89), fx(122)], [fy(688), fy(688)], color=RED, lw=2.4))
fig.text(fx(126), fy(689), "WRMSL", ha="left", va="center", fontsize=12)
fig.add_artist(Line2D([fx(90), fx(122)], [fy(702), fy(702)], color=GREEN_LEGEND, lw=2.4))
fig.text(fx(126), fy(706.5), "Point", ha="left", va="baseline", fontsize=11)
fig.add_artist(Line2D([fx(242), fx(276)], [fy(688), fy(688)], color=RED, lw=2.4))
fig.text(fx(280), fy(689), "WRMSL", ha="left", va="center", fontsize=12)

fig.savefig("out.png", dpi=100)
